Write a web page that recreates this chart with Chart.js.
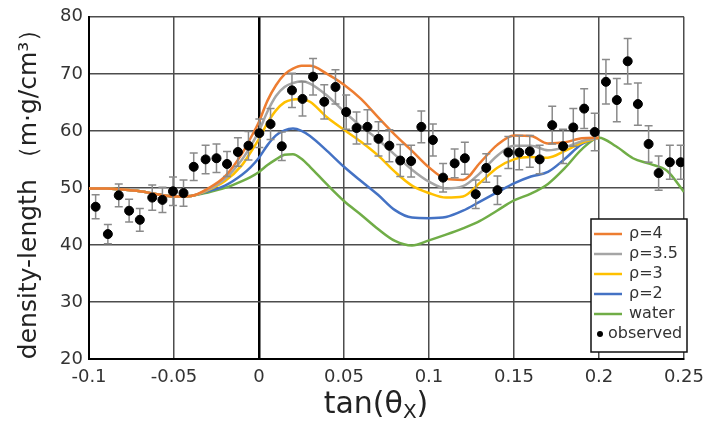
<!DOCTYPE html>
<html>
<head>
<meta charset="utf-8">
<script src="https://cdn.jsdelivr.net/npm/chart.js@4.4.1/dist/chart.umd.min.js"></script>
<style>
  body { margin: 0; background: #fff; }
  canvas { display: block; }
</style>
</head>
<body>
<canvas id="chart" width="712" height="424"></canvas>
<script>

/* =========================
   DATA
========================= */

const curveX = [-0.1, -0.09, -0.08, -0.07, -0.06, -0.05, -0.04, -0.03, -0.02, -0.01, -0.005,
    0, 0.005, 0.01, 0.015, 0.02, 0.025, 0.03, 0.04, 0.05, 0.06, 0.07, 0.08, 0.09,
    0.1, 0.11, 0.12, 0.13, 0.14, 0.15, 0.16, 0.17, 0.18, 0.19, 0.2, 0.21, 0.22, 0.23, 0.24, 0.25];

const rho4 = [49.9, 49.9, 49.7, 49.4, 48.9, 48.5, 48.6, 49.9, 52.0, 56.0, 58.7,
    61.6, 65.3, 68.0, 69.9, 70.9, 71.4, 71.4, 70.0, 68.1, 65.6, 62.4, 59.3, 56.5,
    53.6, 51.6, 51.4, 54.4, 57.5, 59.2, 59.1, 57.8, 58.0, 58.7, 58.8];

const rho35 = [49.9, 49.9, 49.7, 49.4, 48.9, 48.5, 48.6, 49.7, 51.6, 55.0, 57.3,
    60.0, 63.4, 66.1, 67.7, 68.4, 68.7, 68.3, 66.2, 63.4, 60.8, 58.5, 55.8, 53.2,
    51.1, 49.9, 50.3, 52.6, 55.6, 57.4, 57.4, 56.6, 57.1, 58.2, 58.8];

const rho3 = [49.9, 49.9, 49.7, 49.4, 48.9, 48.5, 48.6, 49.6, 51.2, 54.0, 56.2,
    58.6, 61.4, 63.6, 65.0, 65.5, 65.6, 65.1, 62.4, 60.2, 58.1, 55.7, 52.8, 50.4,
    49.1, 48.3, 48.5, 50.9, 53.5, 55.0, 55.4, 55.3, 56.5, 57.9, 58.8];

const rho2 = [49.9, 49.9, 49.7, 49.4, 48.9, 48.5, 48.6, 49.4, 50.4, 52.3, 53.6,
    55.3, 57.5, 59.2, 60.1, 60.4, 60.0, 59.1, 56.5, 53.7, 51.2, 48.8, 46.1, 44.8,
    44.7, 44.9, 46.0, 47.6, 49.2, 50.8, 52.0, 52.8, 55.1, 57.7, 58.8];

const water = [49.9, 49.9, 49.7, 49.4, 48.9, 48.5, 48.6, 49.2, 50.0, 51.2, 51.9,
    52.8, 54.0, 55.0, 55.8, 55.9, 55.1, 53.7, 50.6, 47.7, 45.3, 42.8, 40.7, 39.9,
    40.8, 41.8, 42.9, 44.2, 46.0, 47.8, 49.0, 50.7, 53.5, 56.8, 58.8, 57.3, 55.2, 54.2, 53.0, 49.3];

const obsX = [-0.0961, -0.0889, -0.0825, -0.0764, -0.0701, -0.0628, -0.0568, -0.0506, -0.0444,
    -0.0384, -0.0314, -0.025, -0.0188, -0.0124, -0.0062, 0.0002, 0.0068, 0.0134, 0.0194,
    0.0256, 0.0318, 0.0384, 0.045, 0.0513, 0.0574, 0.0638, 0.0703, 0.0767, 0.0831, 0.0895,
    0.0955, 0.1023, 0.1083, 0.1151, 0.1211, 0.1275, 0.1337, 0.1403, 0.1467, 0.1531, 0.1593,
    0.1651, 0.1725, 0.1789, 0.1849, 0.1913, 0.1975, 0.2041, 0.2105, 0.2169, 0.2229, 0.2292,
    0.2351, 0.2417, 0.2481];

const obsY = [46.7, 41.9, 48.7, 46.0, 44.4, 48.3, 47.9, 49.4, 49.1,
    53.7, 55.0, 55.2, 54.2, 56.3, 57.4, 59.6, 61.2, 57.3, 67.1,
    65.6, 69.5, 65.1, 67.7, 63.3, 60.5, 60.7, 58.6, 57.4, 54.8, 54.7,
    60.7, 58.4, 51.8, 54.3, 55.2, 48.9, 53.5, 49.6, 56.2, 56.2, 56.4,
    55.0, 61.0, 57.3, 60.6, 63.9, 59.8, 68.6, 65.4, 72.2, 64.7, 57.7,
    52.6, 54.5, 54.5];

const obsErr = [2.1, 1.7, 2.0, 2.0, 2.0, 2.2, 2.2, 2.5, 2.3,
    2.4, 2.5, 2.5, 2.2, 2.5, 2.5, 2.5, 2.7, 2.5, 3.0,
    3.0, 3.2, 3.0, 3.0, 3.0, 2.8, 3.0, 3.0, 2.8, 2.8, 2.8,
    2.8, 2.8, 2.5, 2.5, 2.8, 2.5, 2.5, 2.5, 2.8, 3.0, 2.8,
    2.5, 3.3, 3.0, 3.3, 3.5, 3.3, 3.9, 3.8, 4.0, 3.7, 3.2,
    3.0, 3.0, 3.0];

const xTicks = [-0.1, -0.05, 0, 0.05, 0.1, 0.15, 0.2, 0.25];
const xTickLabels = ['-0.1', '-0.05', '0', '0.05', '0.1', '0.15', '0.2', '0.25'];
const yTicks = [20, 30, 40, 50, 60, 70, 80];

function toPoints(xs, ys){
    return ys.map((v, i) => ({ x: xs[i], y: v }));
}

/* =========================
   PLUGINS
========================= */

// error bars, drawn just before the observed points
const errorBarPlugin = {
    id: 'errorBars',
    beforeDatasetDraw(chart, args){
        if (chart.data.datasets[args.index].label !== 'observed') return;
        const { ctx, scales: { x, y } } = chart;
        ctx.save();
        ctx.strokeStyle = '#8a8a8a';
        ctx.lineWidth = 1.5;
        for (let i = 0; i < obsX.length; i++){
            const px = x.getPixelForValue(obsX[i]);
            const yTop = y.getPixelForValue(obsY[i] + obsErr[i]);
            const yBot = y.getPixelForValue(obsY[i] - obsErr[i]);
            ctx.beginPath();
            ctx.moveTo(px, yTop); ctx.lineTo(px, yBot);
            ctx.moveTo(px - 4, yTop); ctx.lineTo(px + 4, yTop);
            ctx.moveTo(px - 4, yBot); ctx.lineTo(px + 4, yBot);
            ctx.stroke();
        }
        ctx.restore();
    }
};

// boxed legend in the lower right + x title with subscript
const boxLegendPlugin = {
    id: 'boxLegend',
    afterDraw(chart){
        const ctx = chart.ctx;
        const bx = 591, by = 219, bw = 96, bh = 133;

        ctx.save();
        ctx.fillStyle = '#fff';
        ctx.fillRect(bx, by, bw, bh);
        ctx.strokeStyle = '#111';
        ctx.lineWidth = 1.5;
        ctx.strokeRect(bx, by, bw, bh);

        ctx.font = '16px "DejaVu Sans"';
        ctx.textBaseline = 'middle';
        ctx.textAlign = 'left';

        chart.data.datasets.forEach((ds, i) => {
            const ly = 234 + i * 20;
            if (ds.label === 'observed'){
                ctx.fillStyle = '#000';
                ctx.beginPath();
                ctx.arc(600, ly, 3, 0, Math.PI * 2);
                ctx.fill();
                ctx.fillStyle = '#333';
                ctx.fillText(ds.label, 608, ly);
            } else {
                ctx.strokeStyle = ds.borderColor;
                ctx.lineWidth = 2.5;
                ctx.beginPath();
                ctx.moveTo(594, ly);
                ctx.lineTo(622, ly);
                ctx.stroke();
                ctx.fillStyle = '#333';
                ctx.fillText(ds.label, 629, ly);
            }
        });

        // x axis title: tan(θX) with subscript X
        const main1 = 'tan(θ', sub = 'X', main2 = ')';
        ctx.fillStyle = '#222';
        ctx.textBaseline = 'alphabetic';
        ctx.font = '30px "DejaVu Sans"';
        const w1 = ctx.measureText(main1).width;
        const w3 = ctx.measureText(main2).width;
        ctx.font = '20px "DejaVu Sans"';
        const w2 = ctx.measureText(sub).width;
        let tx = 376 - (w1 + w2 + w3) / 2;
        const base = 413;
        ctx.font = '30px "DejaVu Sans"';
        ctx.fillText(main1, tx, base);
        tx += w1;
        ctx.font = '20px "DejaVu Sans"';
        ctx.fillText(sub, tx, base + 5);
        tx += w2;
        ctx.font = '30px "DejaVu Sans"';
        ctx.fillText(main2, tx, base);
        ctx.restore();
    }
};

/* =========================
   CHART
========================= */

function lineSet(label, values, color){
    return {
        label: label,
        data: toPoints(curveX, values),
        borderColor: color,
        backgroundColor: color,
        borderWidth: 2.5,
        pointRadius: 0,
        fill: false,
        cubicInterpolationMode: 'monotone'
    };
}

const chart = new Chart(document.getElementById('chart'), {
    type: 'line',
    data: {
        datasets: [
            lineSet('ρ=4', rho4, '#ED7D31'),
            lineSet('ρ=3.5', rho35, '#A5A5A5'),
            lineSet('ρ=3', rho3, '#FFC000'),
            lineSet('ρ=2', rho2, '#4472C4'),
            lineSet('water', water, '#70AD47'),
            {
                label: 'observed',
                data: toPoints(obsX, obsY),
                showLine: false,
                pointRadius: 4.5,
                pointBackgroundColor: '#000',
                pointBorderColor: '#000',
                borderColor: '#000',
                order: -1
            }
        ]
    },
    options: {
        responsive: false,
        devicePixelRatio: 1,
        animation: false,
        layout: { padding: { left: 8, right: 21, top: 15, bottom: 0 } },
        plugins: {
            legend: { display: false },
            tooltip: { enabled: false }
        },
        scales: {
            x: {
                type: 'linear',
                min: -0.1,
                max: 0.25,
                afterBuildTicks(scale){
                    scale.ticks = xTicks.map(v => ({ value: v }));
                },
                afterFit(scale){ scale.height = 65; },
                ticks: {
                    callback: (v) => xTickLabels[xTicks.indexOf(v)],
                    font: { size: 18, family: 'DejaVu Sans' },
                    color: '#333',
                    padding: 8,
                    maxRotation: 0
                },
                grid: {
                    drawTicks: false,
                    color: (c) => c.tick && c.tick.value === 0 ? '#000' : '#4d4d4d',
                    lineWidth: (c) => c.tick && c.tick.value === 0 ? 2.5 : 1.5
                },
                border: { color: '#000', width: 2 }
            },
            y: {
                min: 20,
                max: 80,
                afterBuildTicks(scale){
                    scale.ticks = yTicks.map(v => ({ value: v }));
                },
                afterFit(scale){ scale.width = 81; },
                ticks: {
                    font: { size: 18, family: 'DejaVu Sans' },
                    color: '#333',
                    padding: 6
                },
                grid: {
                    drawTicks: false,
                    color: '#4d4d4d',
                    lineWidth: 1.5
                },
                border: { color: '#000', width: 2 },
                title: {
                    display: true,
                    text: 'density-length （m·g/cm³）',
                    font: { size: 25, family: 'DejaVu Sans' },
                    color: '#222',
                    padding: { top: 6, bottom: 0 }
                }
            }
        }
    },
    plugins: [errorBarPlugin, boxLegendPlugin]
});
</script>
</body>
</html>
